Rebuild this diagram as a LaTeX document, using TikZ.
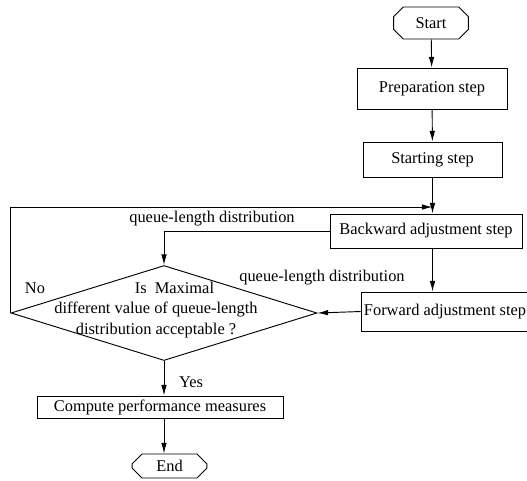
\documentclass[tikz,border=0pt]{standalone}
\usepackage{fontspec}
\setmainfont{Liberation Serif}
\usetikzlibrary{arrows.meta,shapes.geometric,shapes.misc}

\begin{document}
\begin{tikzpicture}[
  x=0.75pt, y=-0.75pt,
  font=\fontsize{12.3}{15.5}\selectfont,
  box/.style={draw, line width=0.7pt, inner sep=0pt},
  term/.style={draw, line width=0.7pt, chamfered rectangle, chamfered rectangle xsep=5pt, inner sep=0pt, minimum width=56pt},
  decision/.style={draw, line width=0.7pt, diamond, inner sep=0pt, minimum width=229.5pt, minimum height=71.25pt},
  arrow/.style={-{Latex[length=8pt,width=4.2pt]}, line width=0.7pt},
  lbl/.style={inner sep=1pt}
]
\useasboundingbox (0,0) rectangle (527,480);

\node[term, minimum height=24pt](start) at (431,23){Start};
\node[box, minimum width=112.5pt, minimum height=30.75pt](prep) at (432,88.5){Preparation step};
\node[box, minimum width=104.25pt, minimum height=26.25pt](startstep) at (432.5,159.5){Starting step};
\node[box, minimum width=144pt, minimum height=25.5pt](backward) at (426,231){Backward adjustment step};
\node[box, minimum width=126pt, minimum height=29.25pt](forward) at (445,311.5){Forward adjustment step};
\node[decision](decision) at (164,313){};
\node[lbl, align=center](question) at (156,310){\hspace*{2.25em}Is\ \ Maximal\\different value of queue-length\\distribution acceptable ?};
\node[box, minimum width=184.5pt, minimum height=16.5pt](compute) at (160,407){Compute performance measures};
\node[term, minimum height=18pt](end) at (169.5,466){End};
\coordinate (merge) at (432.5,207);

\node[lbl](qld1) at (212,219){queue-length distribution};
\node[lbl](qld2) at (322,278){queue-length distribution};
\node[lbl](no) at (35,288){No};
\node[lbl](yes) at (191,382){Yes};

\draw[arrow] (start) -- (prep);
\draw[arrow] (prep) -- (startstep);
\draw[arrow] (startstep.south) -- (startstep.south |- backward.north);
\draw[arrow] (backward.west) -| (decision.north);
\draw[arrow] (startstep.south |- backward.south) -- (startstep.south |- forward.north);
\draw[arrow] (forward.west) -- (decision.east);
\draw[arrow] (decision.west) -- (decision.west |- merge) -- (merge);
\draw[arrow] (decision.south) -- (decision.south |- compute.north);
\draw[arrow] (decision.south |- compute.south) -- (decision.south |- end.north);

\end{tikzpicture}
\end{document}
